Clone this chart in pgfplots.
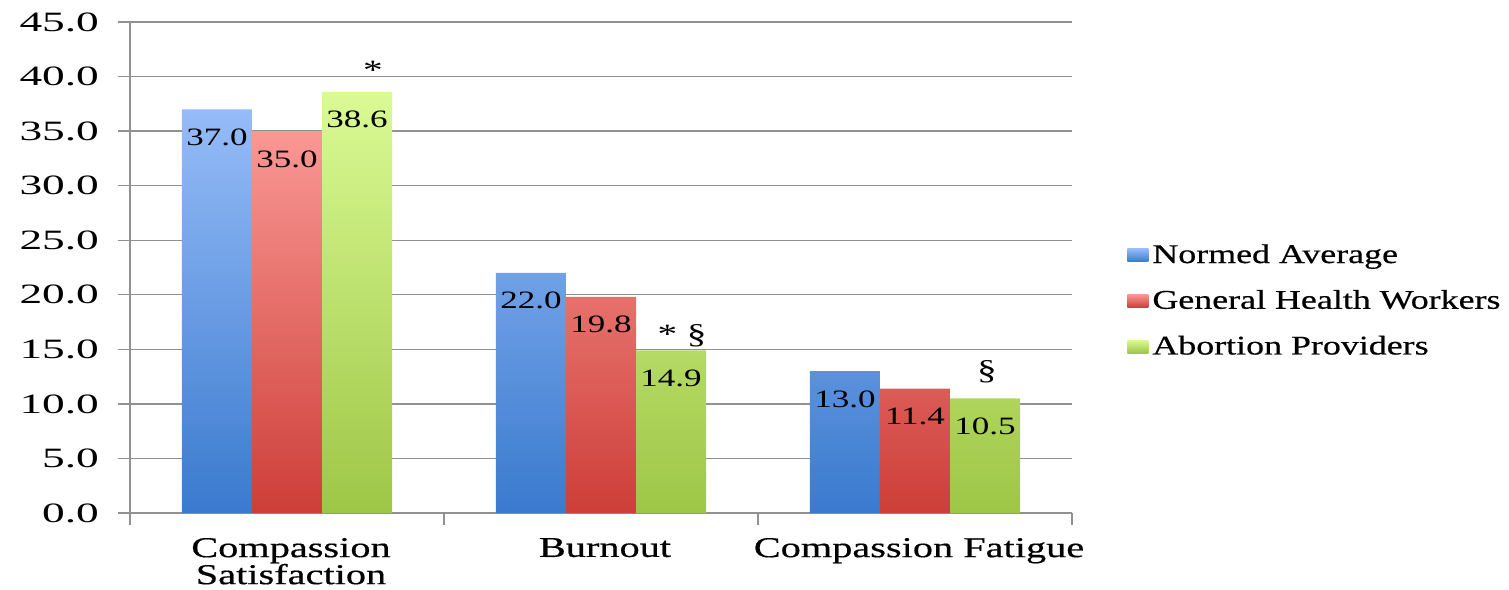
\documentclass[border=0pt]{standalone}
\usepackage{fontspec}
\setmainfont{Liberation Serif}[FakeStretch=1.4]
\newfontfamily\tickfont{Liberation Serif}[FakeStretch=1.62]
\newfontfamily\legfont{Liberation Serif}[FakeStretch=1.33, FakeBold=0.5]
\newfontfamily\catfont{Liberation Serif}[FakeStretch=1.4, FakeBold=0.5]
\usepackage{pgfplots}
\pgfplotsset{compat=1.18}
\definecolor{gridgray}{RGB}{145,145,145}
\definecolor{bluetop}{RGB}{150,188,248}
\definecolor{bluebot}{RGB}{58,122,206}
\definecolor{redtop}{RGB}{250,152,148}
\definecolor{redbot}{RGB}{205,62,56}
\definecolor{greentop}{RGB}{218,250,148}
\definecolor{greenbot}{RGB}{158,198,70}
\begin{document}
\begin{tikzpicture}
\path[use as bounding box] (-65pt,-38pt) rectangle (689.5pt,256.5pt);
\begin{axis}[
  at={(0,0)}, anchor=south west,
  scale only axis, width=471pt, height=245.5pt,
  xmin=-0.5, xmax=2.5, ymin=0, ymax=45,
  ybar=0pt, bar width=0.223,
  axis x line*=bottom, axis y line*=left,
  axis line style={gridgray, line width=0.7pt, -},
  ytick={0,5,...,45},
  ymajorgrids, grid style={gridgray, line width=0.7pt},
  tick align=outside, major tick length=6pt,
  tick style={gridgray, line width=0.7pt},
  /pgf/number format/fixed, /pgf/number format/fixed zerofill,
  /pgf/number format/precision=1, /pgf/number format/assume math mode=true,
  yticklabel style={font=\tickfont\fontsize{14}{14}\selectfont, xshift=-6pt},
  xtick={-0.5,0.5,1.5,2.5}, xticklabels={},
  extra x ticks={0,1,2},
  extra x tick labels={{Compassion\\Satisfaction},Burnout,Compassion Fatigue},
  extra x tick style={major tick length=0pt, grid=none,
     xticklabel style={align=center, font=\catfont\fontsize{14.4}{13.5}\selectfont, yshift=-9pt, xshift=2pt}},
  nodes near coords,
  nodes near coords style={anchor=north, yshift=-7.5pt, inner sep=2pt, text=black,
     font=\fontsize{12.5}{12.5}\selectfont},
  legend image code/.code={\path[#1,draw=none] (0pt,-3.25pt) rectangle (10.5pt,3.25pt);},
  legend style={at={(1.052,0.432)}, anchor=west, draw=none, fill=none,
     font=\legfont\fontsize{13.5}{13.5}\selectfont, row sep=8pt},
  legend cell align=left,
]
\addplot[top color=bluetop, bottom color=bluebot, draw=none] coordinates {(0,37.0) (1,22.0) (2,13.0)};
\addplot[top color=redtop, bottom color=redbot, draw=none] coordinates {(0,35.0) (1,19.8) (2,11.4)};
\addplot[top color=greentop, bottom color=greenbot, draw=none] coordinates {(0,38.6) (1,14.9) (2,10.5)};
\legend{Normed Average, General Health Workers, Abortion Providers}
\node[font=\fontsize{14}{14}\selectfont] at (axis cs:0.274,40.6) {*};
\node[font=\fontsize{14}{14}\selectfont] at (axis cs:1.258,16.2) {* §};
\node[font=\fontsize{14}{14}\selectfont] at (axis cs:2.229,12.9) {§};
\end{axis}
\end{tikzpicture}
\end{document}
